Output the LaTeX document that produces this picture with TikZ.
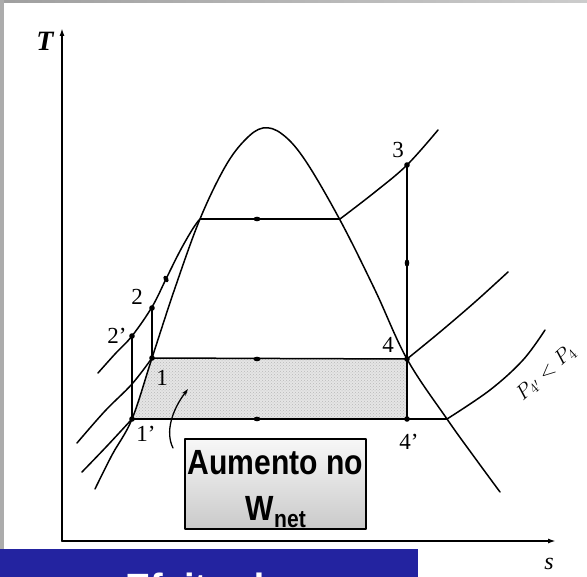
\documentclass[tikz,border=0pt]{standalone}
\usepackage{fontspec}
\setmainfont{Liberation Serif}
\setsansfont{Liberation Sans}
\usetikzlibrary{arrows.meta,patterns,shadings}
\definecolor{bannerblue}{RGB}{35,35,160}
\tikzset{
  curve/.style={line width=1.5pt},
  axisline/.style={line width=1.6pt,-{Latex[length=8pt,width=5pt]}},
  statept/.style={fill=black},
  lbl/.style={font=\fontsize{23}{26}\selectfont, inner sep=0pt},
  wbox/.style={draw=black, line width=1.3pt, top color=gray!6, bottom color=gray!42, minimum width=181pt, minimum height=90pt, inner sep=0pt},
  wtext/.style={font=\fontsize{35}{40}\selectfont\sffamily\bfseries, inner sep=0pt, anchor=base}
}
\begin{document}
\begin{tikzpicture}[x=1pt,y=-1pt,line cap=round,line join=round]
\useasboundingbox (0,0) rectangle (587,577);
\clip (0,0) rectangle (587,577);
\fill[white] (0,0) rectangle (587,577);
% frame strips
\shade[left color=gray!75,right color=gray!40] (0,0) rectangle (587,3);
\fill[gray!65] (0,0) rectangle (4,549);

% named points
\coordinate (O) at (62,541);
\coordinate (Ttip) at (62,28);
\coordinate (stip) at (556,541);
\coordinate (p1) at (152,358);
\coordinate (p1p) at (132,419);
\coordinate (p2) at (152,308);
\coordinate (p2p) at (132,336);
\coordinate (p3) at (407,165);
\coordinate (p4) at (407,359);
\coordinate (p4p) at (407,419);
\coordinate (gL) at (200,219);
\coordinate (gR) at (340,219);
\coordinate (x4p) at (447,419);

% shaded area
\fill[gray!20] (p1) -- (p4) -- (p4p) -- (p1p) -- cycle;
\fill[pattern=crosshatch dots,pattern color=gray!55] (p1) -- (p4) -- (p4p) -- (p1p) -- cycle;

% axes
\draw[axisline] (O) -- (Ttip);
\draw[axisline] (O) -- (stip);
\node[font=\fontsize{28}{30}\selectfont\bfseries\itshape, inner sep=0pt] (Tlab) at (45,41) {T};
\node[font=\fontsize{24}{26}\selectfont\itshape, inner sep=0pt] (slab) at (549,564) {s};

% saturation dome
\draw[curve] plot[smooth,tension=0.6] coordinates {(95,489) (112,455) (132,419) (152,358) (175,288) (200,219) (225,167) (245,140) (263,128) (282,134) (305,160) (340,220) (375,290) (407,359) (447,419) (475,458) (500,492)};

% high pressure isobar (liquid + superheated)
\draw[curve] plot[smooth,tension=0.6] coordinates {(98,373) (115,354) (132,336) (152,307) (166,279) (180,251) (192,230) (199,220)};
\draw[curve] (gL) -- (gR);
\draw[curve] plot[smooth,tension=0.6] coordinates {(340,219) (375,192) (407,165) (438,130)};

% condenser isobar P4
\draw[curve] plot[smooth,tension=0.6] coordinates {(77,443) (105,411) (132,384) (152,358)};
\draw[curve] (p1) -- (p4);
\draw[curve] plot[smooth,tension=0.6] coordinates {(407,359) (440,332) (475,302) (508,272)};

% condenser isobar P4'
\draw[curve] plot[smooth,tension=0.6] coordinates {(82,472) (107,446) (132,419)};
\draw[curve] (p1p) -- (x4p);
\draw[curve] plot[smooth,tension=0.6] coordinates {(447,419) (490,390) (523,360) (545,330)};

% pump and turbine lines
\draw[curve] (p2) -- (p1);
\draw[curve] (p2p) -- (p1p);
\draw[curve] (p3) -- (p4p);

% direction marks
\fill (257,219) ellipse [x radius=3.5pt, y radius=2.3pt];
\fill (257,359) ellipse [x radius=3.5pt, y radius=2.3pt];
\fill (257,419) ellipse [x radius=3.5pt, y radius=2.3pt];
\fill (407,263) ellipse [x radius=2.3pt, y radius=3.8pt];
\fill[rotate around={-63:(166,279)}] (166,279) ellipse [x radius=3.5pt, y radius=2.3pt];

% state points
\foreach \p in {p1,p1p,p2,p2p,p3,p4,p4p}
  \fill[statept] (\p) circle (2.8pt);

% labels
\node[lbl] (l2) at (137,297) {2};
\node[lbl] (l2p) at (117,336) {2'};
\node[lbl] (l1) at (162,378) {1};
\node[lbl] (l1p) at (146,434) {1'};
\node[lbl] (l3) at (398,150) {3};
\node[lbl] (l4) at (388,345) {4};
\node[lbl] (l4p) at (409,442) {4'};
\node[font=\fontsize{22}{24}\selectfont, inner sep=0pt, rotate=42] (plab) at (546,373) {$P_{4'} < P_4$};

% small arrow into area
\coordinate (aS) at (173,448);
\coordinate (aE) at (188,389);
\draw[line width=1.3pt,-{Stealth[length=7pt,width=4.5pt]}] (aS) .. controls (165,432) and (172,410) .. (aE);

% box
\node[wbox] (box) at (275.5,484) {};
\node[wtext] (t1) at (275.5,475) {\scalebox{0.86}[1]{Aumento no}};
\node[wtext] (t2) at (276,520) {\scalebox{0.86}[1]{W\textsubscript{net}}};

% banner
\fill[bannerblue] (0,549) rectangle (418,577);
\node[font=\fontsize{38}{40}\selectfont\sffamily\bfseries, text=white, inner sep=0pt, anchor=base west] (ban) at (125,600) {Efeito do};
\end{tikzpicture}
\end{document}
